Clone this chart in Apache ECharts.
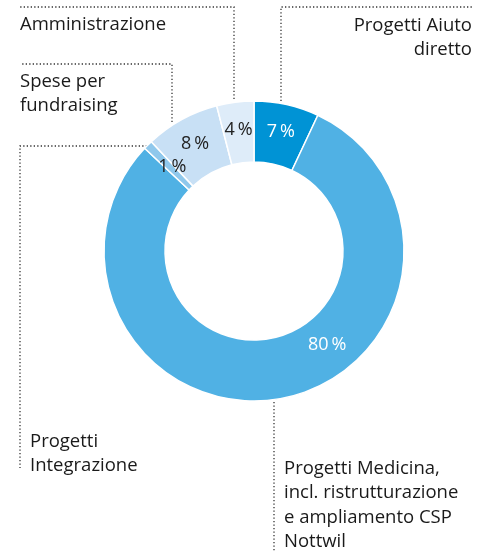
<!DOCTYPE html>
<html>
<head>
<meta charset="utf-8">
<script src="https://cdn.jsdelivr.net/npm/echarts@6/dist/echarts.min.js"></script>
<style>
html, body { margin: 0; padding: 0; background: #fff; }
#chart { width: 477px; height: 552px; }
</style>
</head>
<body>
<div id="chart"></div>
<script>
// dati
var categorie = ['Progetti Aiuto\ndiretto', 'Progetti Medicina,\nincl. ristrutturazione\ne ampliamento CSP\nNottwil', 'Progetti\nIntegrazione', 'Spese per\nfundraising', 'Amministrazione'];
var valori = [7, 80, 1, 8, 4];
var colori = ['#0093d5', '#50b1e4', '#8fc8ec', '#c8e0f5', '#deecf9'];
var coloriEtichetta = ['#ffffff', '#ffffff', '#222222', '#222222', '#222222'];

var cx = 254, cy = 251;
var font = '"Open Sans", "Noto Sans", sans-serif';

// linee tratteggiate e testi esterni
var annotazioni = [
  { linea: [[281, 101], [281, 7], [472, 7]], testo: [472, 13], align: 'right' },
  { linea: [[274, 402], [274, 552]], testo: [284, 456], align: 'left' },
  { linea: [[147, 146], [20, 146], [20, 468]], testo: [30, 429], align: 'left' },
  { linea: [[172, 122], [172, 64], [20, 64]], testo: [20, 69], align: 'left' },
  { linea: [[234, 99], [234, 7], [20, 7]], testo: [20, 12], align: 'left' }
];

var echartsWarp = document.getElementById('chart');
var myChart = echarts.init(echartsWarp);

var grafica = [];
annotazioni.forEach(function (a, i) {
  grafica.push({
    type: 'polyline',
    shape: { points: a.linea },
    style: { stroke: '#333', lineWidth: 1.3, lineDash: [1.3, 2.2], fill: null }
  });
  grafica.push({
    type: 'text',
    x: a.testo[0], y: a.testo[1],
    style: {
      text: categorie[i],
      fill: '#1a1a1a',
      font: '18.5px ' + font,
      lineHeight: 24.5,
      align: a.align,
      verticalAlign: 'top'
    }
  });
});

var dati = valori.map(function (v, i) {
  return {
    value: v,
    name: categorie[i],
    itemStyle: { color: colori[i] },
    label: { color: coloriEtichetta[i] }
  };
});

myChart.setOption({
  animation: false,
  series: [{
    type: 'pie',
    center: [cx, cy],
    radius: [89, 150],
    startAngle: 90,
    clockwise: true,
    silent: true,
    data: dati,
    itemStyle: { borderColor: '#fff', borderWidth: 1.5 },
    label: {
      position: 'inside',
      formatter: function (p) { return p.value + '\u2009%'; },
      fontFamily: font,
      fontSize: 18
    },
    labelLine: { show: false },
    labelLayout: function (p) {
      if (p.dataIndex === 1) {
        var ang = 142 * Math.PI / 180;
        return { x: cx + 119 * Math.sin(ang), y: cy - 119 * Math.cos(ang), align: 'center', verticalAlign: 'middle' };
      }
      if (p.dataIndex === 2) {
        return { x: p.labelRect.x + p.labelRect.width / 2 + 5, y: p.labelRect.y + p.labelRect.height / 2 + 2, align: 'center', verticalAlign: 'middle' };
      }
    }
  }],
  graphic: grafica
});

window.onresize = function () {
  myChart.resize();
};
</script>
</body>
</html>
